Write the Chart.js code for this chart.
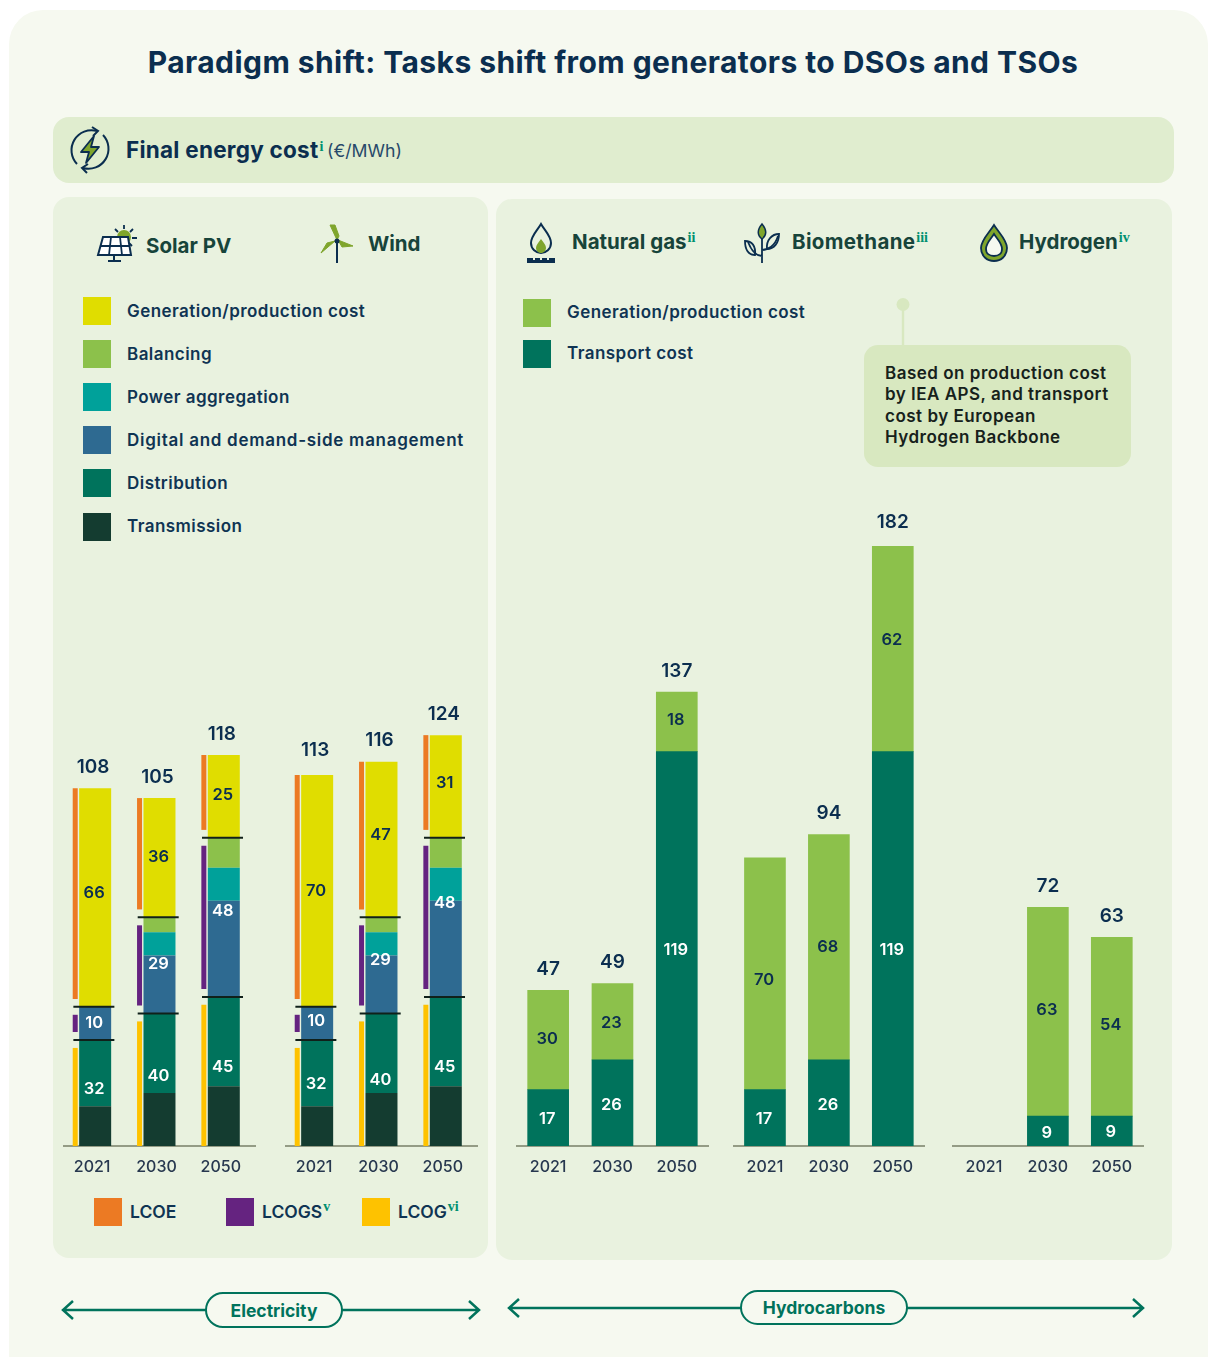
<!DOCTYPE html>
<html>
<head>
<meta charset="utf-8">
<title>Paradigm shift</title>
<script src="https://cdn.jsdelivr.net/npm/chart.js@4/dist/chart.umd.min.js"></script>
<style>
  html, body { margin: 0; padding: 0; background: #fff; }
  body { width: 1208px; height: 1357px; overflow: hidden; position: relative; font-family: Inter, "Open Sans", sans-serif; color: #0b2e4f; }
  .abs { position: absolute; white-space: nowrap; }
  .card { position: absolute; left: 9px; top: 10px; width: 1199px; height: 1380px; background: #f6f9f0; border-radius: 34px; }
  .panel { position: absolute; background: #e9f2df; border-radius: 16px; }
  .band { position: absolute; left: 53px; top: 117px; width: 1121px; height: 66px; background: #e0edcf; border-radius: 16px; }
  h1 { position: absolute; left: 0; top: 43px; width: 1226px; margin: 0; text-align: center; font-size: 30px; letter-spacing: 0.43px; line-height: 38px; font-weight: 700; color: #0b2e4f; }
  .head { font-weight: 700; font-size: 20.5px; color: #17443a; transform: translateY(-50%); }
  sup { font-family: "Liberation Serif", serif; font-size: 14px; letter-spacing: 0; font-weight: 700; color: #00906f; vertical-align: 7px; line-height: 0; margin-left: 1px; }
  .swatch { position: absolute; width: 28px; height: 28px; }
  .lab { position: absolute; white-space: nowrap; font-size: 17px; letter-spacing: 0.45px; font-weight: 600; color: #0f3453; transform: translateY(-50%); }
  .lab.plain { font-size: 17.5px; letter-spacing: 0; }
  canvas { position: absolute; }
  .note { position: absolute; left: 864px; top: 345px; width: 267px; height: 122px; background: #d8e8c0; border-radius: 14px; }
  .note div { position: absolute; left: 21px; white-space: nowrap; font-size: 17px; letter-spacing: 0.5px; font-weight: 600; color: #16211b; transform: translateY(-50%); }
  .pill { position: absolute; box-sizing: border-box; border: 2.5px solid #00735c; border-radius: 18px; background: #f6f9f0; color: #00735c; font-weight: 700; font-size: 17.5px; display: flex; align-items: center; justify-content: center; }
</style>
</head>
<body>
<div class="card"></div>
<h1>Paradigm shift: Tasks shift from generators to DSOs and TSOs</h1>

<div class="band"></div>
<svg class="abs" style="left:68px;top:126px" width="44" height="48" viewBox="0 0 44 48" fill="none">
  <path d="M9 38 A20 20 0 0 1 29 5" stroke="#0b2e4f" stroke-width="2"/>
  <path d="M24 1 L30 5 L25 10" stroke="#0b2e4f" stroke-width="2"/>
  <path d="M35 9 A20 20 0 0 1 15 42" stroke="#0b2e4f" stroke-width="2"/>
  <path d="M20 38 L14 42 L19 47" stroke="#0b2e4f" stroke-width="2"/>
  <path d="M26 10 L13 26 L21 26 L18 37 L31 21 L23 21 Z" fill="#7fa52c" stroke="#0b2e4f" stroke-width="1.8" stroke-linejoin="round"/>
</svg>
<div class="abs" style="left:126px;top:136px;font-size:22.5px;letter-spacing:0.25px;font-weight:700;line-height:28px">Final energy cost<sup>i</sup></div>
<div class="abs" style="left:327px;top:140px;font-size:17.7px;font-weight:400;line-height:22px;color:#27496a">(€/MWh)</div>

<div class="panel" style="left:53px;top:197px;width:435px;height:1061px"></div>
<div class="panel" style="left:496px;top:199px;width:676px;height:1061px"></div>

<!-- technology headings -->
<svg class="abs" style="left:96px;top:224px" width="42" height="40" viewBox="0 0 42 40" fill="none">
  <circle cx="28" cy="13" r="7" fill="#7fa52c"/>
  <path d="M28 1v4M37 5l-3 3M41 14h-5M36 22l-3-3M19 5l3 3" stroke="#0b2e4f" stroke-width="1.8"/>
  <path d="M7 13h25l3 18H2Z" fill="#fff" stroke="#0b2e4f" stroke-width="2"/>
  <path d="M15 13l-2 18M24 13l2 18M4 22h30" stroke="#0b2e4f" stroke-width="1.8"/>
  <path d="M18 31v6M12 37h13" stroke="#0b2e4f" stroke-width="2"/>
</svg>
<div class="abs head" style="left:146px;top:245px">Solar PV</div>
<svg class="abs" style="left:318px;top:222px" width="38" height="42" viewBox="0 0 38 42" fill="none">
  <path d="M19 20 V41" stroke="#0b2e4f" stroke-width="2"/>
  <path d="M19 18 L12 3 L17 3 L21 14 Z M20 18 L35 24 L24 25 Z M17 19 L3 31 L9 21 Z" fill="#7fa52c" stroke="#7fa52c"/>
  <circle cx="19" cy="19" r="2.5" fill="#0b2e4f"/>
</svg>
<div class="abs head" style="left:368px;top:243px">Wind</div>

<svg class="abs" style="left:525px;top:222px" width="32" height="42" viewBox="0 0 32 42" fill="none">
  <path d="M16 2 C12 9 6 14 6 21 C6 27 11 31 16 31 C21 31 26 27 26 21 C26 14 20 9 16 2Z" stroke="#0b2e4f" stroke-width="2"/>
  <path d="M16 17 C13 21 11 23 11 26 C11 29 14 31 16 31 C18 31 21 29 21 26 C21 23 19 21 16 17Z" fill="#7fa52c"/>
  <path d="M2 36h28v5H2Z" fill="#0b2e4f"/>
  <path d="M9 36v2M16 36v2M23 36v2" stroke="#e9f2df" stroke-width="2"/>
</svg>
<div class="abs head" style="left:572px;top:241px">Natural gas<sup>ii</sup></div>
<svg class="abs" style="left:742px;top:222px" width="40" height="42" viewBox="0 0 40 42" fill="none">
  <path d="M20 41 V14 M20 34 C14 34 10 30 6 20 M20 28 C26 28 33 24 36 14" stroke="#0b2e4f" stroke-width="1.8"/>
  <path d="M20 2 C15 8 15 13 20 17 C25 13 25 8 20 2Z" fill="#7fa52c" stroke="#0b2e4f" stroke-width="1.5"/>
  <path d="M3 19 C10 19 14 24 13 33 C6 33 3 27 3 19Z" stroke="#0b2e4f" stroke-width="1.8"/>
  <path d="M37 12 C30 12 24 18 25 27 C32 27 37 21 37 12Z" stroke="#0b2e4f" stroke-width="1.8"/>
</svg>
<div class="abs head" style="left:792px;top:241px;letter-spacing:0.35px">Biomethane<sup>iii</sup></div>
<svg class="abs" style="left:977px;top:223px" width="34" height="40" viewBox="0 0 34 40" fill="none">
  <path d="M17 2 C12 10 4 17 4 25 C4 33 10 38 17 38 C24 38 30 33 30 25 C30 17 22 10 17 2Z" fill="#7fa52c" stroke="#0b2e4f" stroke-width="1.8"/>
  <path d="M17 11 C14 16 9 20 9 26 C9 31 13 33 17 33 C21 33 25 31 25 26 C25 20 20 16 17 11Z" fill="#f6f9f0" stroke="#0b2e4f" stroke-width="1.8"/>
</svg>
<div class="abs head" style="left:1019px;top:241px">Hydrogen<sup>iv</sup></div>

<!-- cost component key, electricity -->
<div class="swatch" style="left:83px;top:297px;background:#e0dd00"></div><div class="lab" style="left:127px;top:311px">Generation/production cost</div>
<div class="swatch" style="left:83px;top:340px;background:#8cc14b"></div><div class="lab" style="left:127px;top:354px">Balancing</div>
<div class="swatch" style="left:83px;top:383px;background:#00a19a"></div><div class="lab" style="left:127px;top:397px">Power aggregation</div>
<div class="swatch" style="left:83px;top:426px;background:#2e6a91"></div><div class="lab" style="left:127px;top:440px;letter-spacing:0.72px">Digital and demand-side management</div>
<div class="swatch" style="left:83px;top:469px;background:#00735c"></div><div class="lab" style="left:127px;top:483px">Distribution</div>
<div class="swatch" style="left:83px;top:513px;background:#143c30"></div><div class="lab" style="left:127px;top:526px">Transmission</div>

<!-- cost component key, hydrocarbons -->
<div class="swatch" style="left:523px;top:299px;background:#8cc14b"></div><div class="lab" style="left:567px;top:312px">Generation/production cost</div>
<div class="swatch" style="left:523px;top:340px;background:#00735c"></div><div class="lab" style="left:567px;top:353px">Transport cost</div>

<svg class="abs" style="left:890px;top:295px" width="26" height="52">
  <circle cx="13" cy="9.5" r="6.5" fill="#d8e8c0"/>
  <rect x="11.8" y="10" width="2.4" height="42" fill="#d8e8c0"/>
</svg>
<div class="note">
  <div style="top:28px">Based on production cost</div>
  <div style="top:49px">by IEA APS, and transport</div>
  <div style="top:71px">cost by European</div>
  <div style="top:92px">Hydrogen Backbone</div>
</div>

<canvas id="solarChart" style="left:63px;top:480px"></canvas>
<canvas id="windChart" style="left:285px;top:480px"></canvas>
<canvas id="gasChart" style="left:516px;top:480px"></canvas>
<canvas id="bioChart" style="left:733px;top:480px"></canvas>
<canvas id="h2Chart" style="left:952px;top:480px"></canvas>

<!-- levelised cost key -->
<div class="swatch" style="left:94px;top:1198px;background:#ec7a23"></div><div class="lab plain" style="left:130px;top:1211px">LCOE</div>
<div class="swatch" style="left:226px;top:1198px;background:#652380"></div><div class="lab plain" style="left:262px;top:1211px">LCOGS<sup>v</sup></div>
<div class="swatch" style="left:362px;top:1198px;background:#fec200"></div><div class="lab plain" style="left:398px;top:1211px">LCOG<sup>vi</sup></div>

<!-- sector arrows -->
<svg class="abs" style="left:0;top:1280px" width="1208" height="60" fill="none" stroke="#00735c" stroke-width="2.5">
  <path d="M63 30 H479 M73 21 L63 30 L73 39 M469 21 L479 30 L469 39"/>
  <path d="M509 28 H1143 M519 19 L509 28 L519 37 M1133 19 L1143 28 L1133 37"/>
</svg>
<div class="pill" style="left:205px;top:1292px;width:138px;height:36px">Electricity</div>
<div class="pill" style="left:740px;top:1290px;width:168px;height:35px">Hydrocarbons</div>

<script>
var years = ['2021', '2030', '2050'];

// electricity, €/MWh
var solarTransmission = [12, 16, 18];
var solarDistribution = [20, 24, 27];
var solarDigital      = [10, 17.5, 29];
var solarAggregation  = [0, 7, 10];
var solarBalancing    = [0, 4.5, 9];
var solarGeneration   = [66, 36, 25];
var solarLcog  = [32, 40, 45];
var solarLcogs = [10, 29, 48];
var solarLcoe  = [66, 36, 25];
var solarTotals = [108, 105, 118];

var windTransmission = [12, 16, 18];
var windDistribution = [20, 24, 27];
var windDigital      = [10, 17.5, 29];
var windAggregation  = [0, 7, 10];
var windBalancing    = [0, 4.5, 9];
var windGeneration   = [70, 47, 31];
var windLcog  = [32, 40, 45];
var windLcogs = [10, 29, 48];
var windLcoe  = [70, 47, 31];
var windTotals = [113, 116, 124];

// hydrocarbons, €/MWh
var gasTransport  = [17, 26, 119];
var gasGeneration = [30, 23, 18];
var gasTotals     = [47, 49, 137];

var bioTransport  = [17, 26, 119];
var bioGeneration = [70, 68, 62];
var bioTotals     = [null, 94, 182];

var h2Transport  = [null, 9, 9];
var h2Generation = [null, 63, 54];
var h2Totals     = [null, 72, 63];

var colors = {
  generation: '#e0dd00', balancing: '#8cc14b', aggregation: '#00a19a', digital: '#2e6a91',
  distribution: '#00735c', transmission: '#143c30',
  lcoe: '#ec7a23', lcogs: '#652380', lcog: '#fec200'
};
var navy = '#0b2e4f';
var yMax = 201;            // 3.31 px per €/MWh in the 666 px plot height
var plotHeight = 706;
var sideGap = 2.4;         // space left either side of a separator, in €/MWh
var sideOffset = -0.31;    // thin bars sit left of the main bar
var lineOffset = -0.02;

Chart.defaults.font.family = 'Inter, "Open Sans", sans-serif';
Chart.defaults.animation = false;

function text(ctx, str, x, y, color, size) {
  ctx.save();
  ctx.font = '600 ' + size + 'px Inter, "Open Sans", sans-serif';
  ctx.fillStyle = color;
  ctx.textAlign = 'center';
  ctx.textBaseline = 'middle';
  ctx.fillText(str, x, y);
  ctx.restore();
}

// numbers over the stacks and inside the segments; shifts are label nudges in px
function labelPlugin(totals, bands, totalShift) {
  return {
    id: 'valueLabels',
    afterDatasetsDraw: function (chart) {
      var xs = chart.scales.x, ys = chart.scales.y, ctx = chart.ctx;
      bands.forEach(function (band) {
        band.values.forEach(function (v, i) {
          if (v == null) return;
          var from = band.starts ? band.starts[i] : 0;
          var y = ys.getPixelForValue(from + v / 2) + band.shift[i];
          text(ctx, String(v), xs.getPixelForValue(i) - 1, y, band.color, 16.5);
        });
      });
      totals.forEach(function (t, i) {
        if (t == null) return;
        text(ctx, String(t), xs.getPixelForValue(i) + totalShift, ys.getPixelForValue(t) - 21, navy, 19);
      });
    }
  };
}

function xTickOptions(labelOffset) {
  return {
    color: '#27384f',
    font: { size: 16, weight: '500' },
    padding: 12,
    labelOffset: labelOffset,
    maxRotation: 0,
    autoSkip: false
  };
}

// same axis band on every chart so the baselines line up
function pinAxis(scale) { scale.height = 40; }

function stackSet(label, values, color) {
  return {
    label: label, stack: 'cost', backgroundColor: color,
    barPercentage: 10, maxBarThickness: 32, grouped: false, order: 2,
    data: values.map(function (v, i) { return { x: i, y: v }; })
  };
}

function sideSet(label, color, ranges) {
  return {
    label: label, stack: label, backgroundColor: color,
    barPercentage: 10, maxBarThickness: 5, grouped: false, order: 2,
    data: ranges.map(function (r, i) { return { x: i + sideOffset, y: r }; })
  };
}

// one electricity chart: cost stack, LCOx side bars, separator lines
function electricityChart(id, s, shifts) {
  var el = document.getElementById(id);
  el.width = 193; el.height = plotHeight;
  el.style.width = '193px'; el.style.height = plotHeight + 'px';

  var lowerCut = s.lcog;
  var upperCut = s.lcog.map(function (v, i) { return v + s.lcogs[i]; });
  var total = upperCut.map(function (v, i) { return v + s.lcoe[i]; });

  new Chart(el, {
    type: 'bar',
    data: {
      datasets: [
        stackSet('Transmission', s.transmission, colors.transmission),
        stackSet('Distribution', s.distribution, colors.distribution),
        stackSet('Digital and demand-side management', s.digital, colors.digital),
        stackSet('Power aggregation', s.aggregation, colors.aggregation),
        stackSet('Balancing', s.balancing, colors.balancing),
        stackSet('Generation/production cost', s.generation, colors.generation),
        sideSet('LCOG', colors.lcog, lowerCut.map(function (v) { return [0, v - sideGap]; })),
        sideSet('LCOGS', colors.lcogs, lowerCut.map(function (v, i) { return [v + sideGap, upperCut[i] - sideGap]; })),
        sideSet('LCOE', colors.lcoe, upperCut.map(function (v, i) { return [v + sideGap, total[i]]; })),
        {
          type: 'scatter', label: 'separator', order: 1,
          pointStyle: 'line', pointRadius: 20.5, pointBorderWidth: 2, pointBorderColor: '#10201a',
          data: lowerCut.concat(upperCut).map(function (v, i) { return { x: (i % 3) + lineOffset, y: v }; })
        }
      ]
    },
    options: {
      responsive: false,
      events: [],
      layout: { padding: 0, autoPadding: false },
      plugins: { legend: { display: false }, tooltip: { enabled: false } },
      scales: {
        x: {
          type: 'linear', min: -0.5, max: 2.5, offset: false,
          afterBuildTicks: function (scale) { scale.ticks = years.map(function (y, i) { return { value: i }; }); },
          grid: { display: false, drawTicks: false },
          border: { color: '#949c85', width: 2 },
          afterFit: pinAxis,
          ticks: Object.assign(xTickOptions(-3), { callback: function (v) { return years[v]; } })
        },
        y: { display: false, stacked: true, min: 0, max: yMax }
      }
    },
    plugins: [labelPlugin(s.totals, [
      { values: s.lcog, color: '#fff', shift: shifts.lcog },
      { values: s.lcogs, starts: lowerCut, color: '#fff', shift: shifts.lcogs },
      { values: s.lcoe, starts: upperCut, color: navy, shift: shifts.lcoe }
    ], -2)]
  });
}

// one hydrocarbon chart: generation on transport
function hydrocarbonChart(id, width, transport, generation, totals, genShift) {
  var el = document.getElementById(id);
  el.width = width; el.height = plotHeight;
  el.style.width = width + 'px'; el.style.height = plotHeight + 'px';

  new Chart(el, {
    type: 'bar',
    data: {
      labels: years,
      datasets: [
        { label: 'Transport cost', data: transport, backgroundColor: colors.distribution, barThickness: 41 },
        { label: 'Generation/production cost', data: generation, backgroundColor: colors.balancing, barThickness: 41 }
      ]
    },
    options: {
      responsive: false,
      events: [],
      layout: { padding: 0, autoPadding: false },
      plugins: { legend: { display: false }, tooltip: { enabled: false } },
      scales: {
        x: {
          stacked: true,
          grid: { display: false, drawTicks: false },
          border: { color: '#949c85', width: 2 },
          afterFit: pinAxis,
          ticks: xTickOptions(0)
        },
        y: { display: false, stacked: true, min: 0, max: yMax }
      }
    },
    plugins: [labelPlugin(totals, [
      { values: transport, color: '#fff', shift: [1, 2, 1] },
      { values: generation, starts: transport, color: navy, shift: genShift }
    ], 0)]
  });
}

electricityChart('solarChart', {
  transmission: solarTransmission, distribution: solarDistribution, digital: solarDigital,
  aggregation: solarAggregation, balancing: solarBalancing, generation: solarGeneration,
  lcog: solarLcog, lcogs: solarLcogs, lcoe: solarLcoe, totals: solarTotals
}, { lcog: [-4, -4, -4], lcogs: [0, -1, -6], lcoe: [-4, -1, -1] });
electricityChart('windChart', {
  transmission: windTransmission, distribution: windDistribution, digital: windDigital,
  aggregation: windAggregation, balancing: windBalancing, generation: windGeneration,
  lcog: windLcog, lcogs: windLcogs, lcoe: windLcoe, totals: windTotals
}, { lcog: [-9, 0, -4], lcogs: [-2, -5, -14], lcoe: [0, -4, -3] });
hydrocarbonChart('gasChart', 193, gasTransport, gasGeneration, gasTotals, [-1, 1, -2]);
hydrocarbonChart('bioChart', 192, bioTransport, bioGeneration, bioTotals, [6, 0, -9]);
hydrocarbonChart('h2Chart', 192, h2Transport, h2Generation, h2Totals, [0, -2, -2]);
</script>
</body>
</html>
